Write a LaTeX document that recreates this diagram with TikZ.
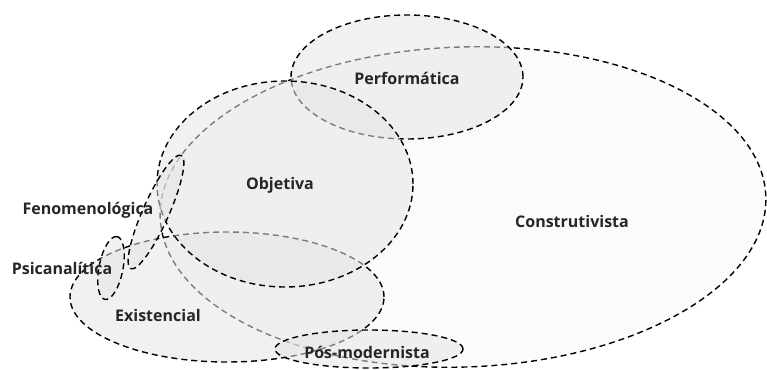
\documentclass[tikz,border=0pt]{standalone}
\usepackage{fontspec}
\setmainfont{Open Sans}
\usetikzlibrary{calc}

\tikzset{
  conjunto/.style={draw=black, line width=1.4pt, dash pattern=on 6pt off 4pt, fill=gray!20, fill opacity=0.55},
  rotulo/.style={font=\fontsize{16}{18}\selectfont\bfseries, text=black!85}
}

\begin{document}
\begin{tikzpicture}[x=1pt, y=1pt]
            \useasboundingbox (0,0) rectangle (767,369);
            \draw[conjunto, fill=gray!5, fill opacity=0.6, rotate around={2:(463,162)}] (463,162) ellipse (303 and 160);
            \draw[conjunto] (227,72) ellipse (157 and 65);
            \draw[conjunto] (407,292) ellipse (116 and 62);
            \draw[conjunto] (285,185) ellipse (128 and 103);
            \draw[conjunto, rotate around={66:(156,157)}] (156,157) ellipse (62 and 13);
            \draw[conjunto, rotate around={79:(111,101)}] (111,101) ellipse (32 and 12);
            \draw[conjunto] (369,20) ellipse (94 and 19);
            \node[rotulo] (constr) at (572,147) {Construtivista};
            \node[rotulo] (perf) at (407,291) {Performática};
            \node[rotulo] (obj) at (280,184) {Objetiva};
            \node[rotulo] (fenom) at (88,159) {Fenomenológica};
            \node[rotulo] (psic) at (62,101) {Psicanalítica};
            \node[rotulo] (exist) at (158,53) {Existencial};
            \node[rotulo] (posmod) at (367,17) {Pós-modernista};
        \end{tikzpicture}
\end{document}
